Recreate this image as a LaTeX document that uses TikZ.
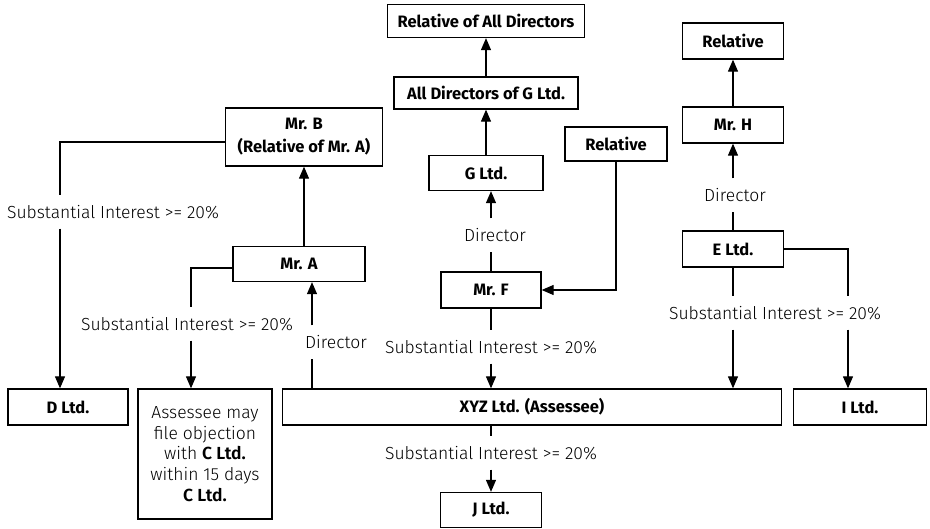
\documentclass[tikz,border=0pt]{standalone}
\usepackage{fontspec}
\setmainfont{Fira Sans}
\newfontfamily\thinfont{Fira Sans Light}
\usetikzlibrary{arrows.meta,positioning}

\begin{document}
\begin{tikzpicture}[x=1pt, y=-1pt, line width=1.2pt, >={Triangle[width=10pt,length=12pt]}]
        \tikzstyle{box} = [rectangle, draw, line width=1.3pt, align=center, inner sep=0pt, font=\bfseries\fontsize{16.5}{23}\selectfont]
        \tikzstyle{tag} = [align=center, inner sep=0pt, minimum height=32pt, font=\thinfont\fontsize{17.5}{20}\selectfont]

        \useasboundingbox (0,0) rectangle (930,529);

        % line columns
        \coordinate (colD) at (60,0);
        \coordinate (colC) at (191,0);
        \coordinate (colA) at (312,0);
        \coordinate (colI) at (848,0);

        % boxes
        \node (reldir) [box, minimum width=197pt, minimum height=33pt] at (486,21) {Relative of All Directors};
        \node (alldir) [box, minimum width=184pt, minimum height=32pt] at (486,93) {All Directors of G Ltd.};
        \node (gltd) [box, minimum width=114pt, minimum height=35pt] at (486,173) {G Ltd.};
        \node (relF) [box, minimum width=102pt, minimum height=34pt] at (616,144) {Relative};
        \node (relH) [box, minimum width=101pt, minimum height=36pt] at (733,41) {Relative};
        \node (mrh) [box, minimum width=101pt, minimum height=36pt] at (733,125) {Mr. H};
        \node (eltd) [box, minimum width=101pt, minimum height=36pt] at (733,249) {E Ltd.};
        \node (mrb) [box, minimum width=157pt, minimum height=58pt] at (304,137) {Mr. B\\(Relative of Mr. A)};
        \node (mra) [box, minimum width=132pt, minimum height=35pt] at (299,264) {Mr. A};
        \node (mrf) [box, minimum width=100pt, minimum height=36pt] at (491,290) {Mr. F};
        \node (dltd) [box, minimum width=120pt, minimum height=36pt] at (68,407) {D Ltd.};
        \node (cltd) [box, minimum width=134pt, minimum height=130pt, font=\thinfont\fontsize{17.5}{20.7}\selectfont] at (205,454) {Assessee may\\file objection\\with \textbf{C Ltd.}\\within 15 days\\\textbf{C Ltd.}};
        \node (xyz) [box, minimum width=499pt, minimum height=36pt] at (532,407) {XYZ Ltd. (Assessee)};
        \node (iltd) [box, minimum width=133pt, minimum height=36pt] at (860,407) {I Ltd.};
        \node (jltd) [box, minimum width=101pt, minimum height=35pt] at (491,510) {J Ltd.};

        % labels on the links
        \node (siB) [tag] at (113,212) {Substantial Interest >= 20\%};
        \node (siA) [tag] at (187,324) {Substantial Interest >= 20\%};
        \node (dirA) [tag] at (336,342) {Director};
        \node (siF) [tag] at (491,347) {Substantial Interest >= 20\%};
        \node (dirF) [tag] at (495,235) {Director};
        \node (dirH) [tag] at (735,195) {Director};
        \node (siE) [tag] at (775,313) {Substantial Interest >= 20\%};
        \node (siX) [tag] at (491,453) {Substantial Interest >= 20\%};

        % G Ltd. chain
        \draw[->] (alldir) -- (reldir);
        \draw[->] (gltd) -- (alldir);
        \draw (mrf.north) -- (mrf.north |- dirF.south);
        \draw[->] (mrf.north |- dirF.north) -- (mrf.north |- gltd.south);
        \draw[->] (relF.south) |- (mrf.east);
        \draw (mrf) -- (siF);
        \draw[->] (siF) -- (mrf.south |- xyz.north);

        % Mr. H and E Ltd.
        \draw[->] (mrh) -- (relH);
        \draw (eltd.north) -- (eltd.north |- dirH.south);
        \draw[->] (eltd.north |- dirH.north) -- (mrh.south);
        \draw (eltd.south) -- (eltd.south |- siE.north);
        \draw[->] (eltd.south |- siE.south) -- (eltd.south |- xyz.north);
        \draw (eltd.east) -| (colI |- siE.north);
        \draw[->] (colI |- siE.south) -- (colI |- iltd.north);

        % Mr. A and Mr. B
        \draw[->] (mra.north -| mrb.south) -- (mrb.south);
        \draw (xyz.north -| colA) -- (colA |- dirA.south);
        \draw[->] (colA |- dirA.north) -- (colA |- mra.south);
        \draw ([yshift=-4pt]mra.west) -| (colC |- siA.north);
        \draw[->] (colC |- siA.south) -- (colC |- cltd.north);
        \draw ([yshift=-5pt]mrb.west) -| (colD |- siB.north);
        \draw[->] (colD |- siB.south) -- (colD |- dltd.north);

        % J Ltd.
        \draw (xyz.south -| siX) -- (siX);
        \draw[->] (siX) -- (jltd);
    \end{tikzpicture}
\end{document}
